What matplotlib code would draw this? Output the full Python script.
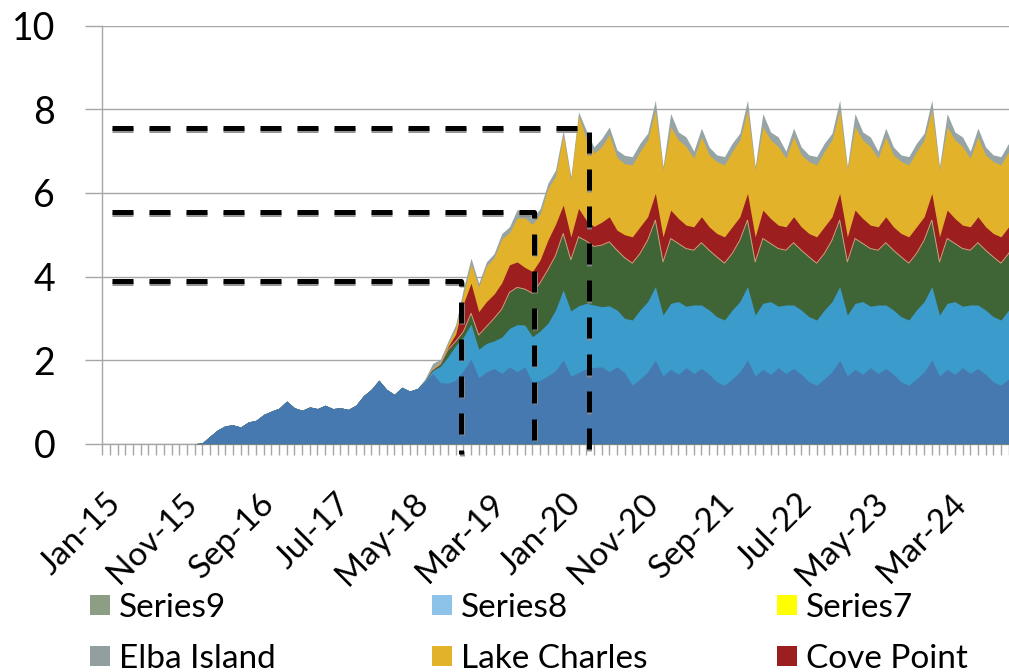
import numpy as np
import matplotlib.pyplot as plt
import matplotlib.patheffects as pe
from matplotlib.patches import Rectangle
from matplotlib.ticker import MultipleLocator
from matplotlib.transforms import ScaledTranslation

plt.rcParams["font.family"] = ["Lato", "DejaVu Sans"]

# Monthly categories Jan-15 .. Dec-24, one label every ten months
tick_months = [0, 10, 20, 30, 40, 50, 60, 70, 80, 90, 100, 110]
tick_labels = ["Jan-15", "Nov-15", "Sep-16", "Jul-17", "May-18", "Mar-19",
               "Jan-20", "Nov-20", "Sep-21", "Jul-22", "May-23", "Mar-24"]

# Stacked layers, bottom to top (one value per month)
series1 = (
    [0.0] * 13
    + [0.02, 0.18, 0.33, 0.43, 0.45, 0.40, 0.52, 0.56, 0.70, 0.78, 0.85,
       1.02, 0.86, 0.80, 0.88, 0.84, 0.92, 0.84, 0.86, 0.82, 0.92, 1.15,
       1.30, 1.52, 1.30, 1.18, 1.35, 1.26, 1.32]
    + [1.48, 1.68, 1.46, 1.45, 1.52, 1.75, 2.02, 1.58, 1.72, 1.80, 1.68,
       1.84, 1.72, 1.84, 1.46, 1.52, 1.62, 1.75, 2.00, 1.62, 1.70, 1.80,
       1.82, 1.84, 1.72, 1.84, 1.70, 1.40, 1.55, 1.72]
    + [2.00, 1.62, 1.78, 1.66, 1.82, 1.68, 1.80, 1.66, 1.48, 1.40, 1.55, 1.72]
    + [2.00, 1.62, 1.78, 1.66, 1.82, 1.68, 1.80, 1.66, 1.48, 1.40, 1.55, 1.72]
    + [2.00, 1.62, 1.78, 1.66, 1.82, 1.68, 1.80, 1.66, 1.48, 1.40, 1.55, 1.72]
    + [2.00, 1.62, 1.78, 1.66, 1.82, 1.68, 1.80, 1.66, 1.48, 1.40, 1.55, 1.72]
)
series2 = (
    [0.0] * 42
    + [0.02, 0.07, 0.39, 0.63, 0.83, 0.80, 0.84, 0.68, 0.68, 0.66, 0.87,
       0.92, 1.13, 1.00, 1.10, 1.18, 1.26, 1.45, 1.68, 1.56, 1.60, 1.56,
       1.50, 1.44, 1.58, 1.36, 1.30, 1.56, 1.65, 1.68]
    + [1.76, 1.46, 1.58, 1.74, 1.47, 1.64, 1.52, 1.54, 1.56, 1.56, 1.65, 1.68]
    + [1.76, 1.46, 1.58, 1.74, 1.47, 1.64, 1.52, 1.54, 1.56, 1.56, 1.65, 1.68]
    + [1.76, 1.46, 1.58, 1.74, 1.47, 1.64, 1.52, 1.54, 1.56, 1.56, 1.65, 1.68]
    + [1.76, 1.46, 1.58, 1.74, 1.47, 1.64, 1.52, 1.54, 1.56, 1.56, 1.65, 1.68]
)
series3 = (
    [0.0] * 43
    + [0.02, 0.05, 0.17, 0.10, 0.13, 0.26, 0.34, 0.40, 0.54, 0.67, 0.86,
       0.89, 0.86, 1.04, 1.15, 1.28, 1.30, 1.35, 1.22, 1.65, 1.49, 1.40,
       1.47, 1.53, 1.43, 1.45, 1.36, 1.35, 1.47]
    + [1.59, 1.27, 1.55, 1.39, 1.38, 1.31, 1.49, 1.43, 1.43, 1.36, 1.35, 1.47]
    + [1.59, 1.27, 1.55, 1.39, 1.38, 1.31, 1.49, 1.43, 1.43, 1.36, 1.35, 1.47]
    + [1.59, 1.27, 1.55, 1.39, 1.38, 1.31, 1.49, 1.43, 1.43, 1.36, 1.35, 1.47]
    + [1.59, 1.27, 1.55, 1.39, 1.38, 1.31, 1.49, 1.43, 1.43, 1.36, 1.35, 1.47]
)
cove_point = (
    [0.0] * 43
    + [0.02, 0.03, 0.07, 0.17, 0.67, 0.72, 0.56, 0.60, 0.58, 0.63, 0.66,
       0.61, 0.52, 0.52, 0.55, 0.71, 0.75, 0.68, 0.55, 0.68, 0.50, 0.48,
       0.55, 0.60, 0.48, 0.55, 0.63, 0.64, 0.56]
    + [0.64, 0.60, 0.68, 0.60, 0.56, 0.56, 0.62, 0.56, 0.56, 0.63, 0.64, 0.56]
    + [0.64, 0.60, 0.68, 0.60, 0.56, 0.56, 0.62, 0.56, 0.56, 0.63, 0.64, 0.56]
    + [0.64, 0.60, 0.68, 0.60, 0.56, 0.56, 0.62, 0.56, 0.56, 0.63, 0.64, 0.56]
    + [0.64, 0.60, 0.68, 0.60, 0.56, 0.56, 0.62, 0.56, 0.56, 0.63, 0.64, 0.56]
)
lake_charles = (
    [0.0] * 43
    + [0.02, 0.02, 0.06, 0.13, 0.23, 0.46, 0.59, 0.85, 0.87, 1.05, 0.77,
       1.05, 1.18, 1.13, 1.10, 1.23, 1.15, 1.69, 1.35, 2.22, 1.95, 1.75,
       1.80, 1.97, 1.74, 1.70, 1.72, 1.80, 1.84]
    + [1.99, 1.60, 1.99, 1.88, 1.88, 1.64, 1.91, 1.72, 1.72, 1.72, 1.80, 1.84]
    + [1.99, 1.60, 1.99, 1.88, 1.88, 1.64, 1.91, 1.72, 1.72, 1.72, 1.80, 1.84]
    + [1.99, 1.60, 1.99, 1.88, 1.88, 1.64, 1.91, 1.72, 1.72, 1.72, 1.80, 1.84]
    + [1.99, 1.60, 1.99, 1.88, 1.88, 1.64, 1.91, 1.72, 1.72, 1.72, 1.80, 1.84]
)
elba_island = (
    [0.0] * 42
    + [0.05, 0.11, 0.07, 0.07, 0.10, 0.12, 0.14, 0.09, 0.10, 0.10, 0.13,
       0.14, 0.20, 0.15, 0.14, 0.13, 0.13, 0.15, 0.10, 0.09, 0.09, 0.20,
       0.15, 0.20, 0.18, 0.18, 0.20, 0.20, 0.20, 0.16]
    + [0.24, 0.08, 0.32, 0.19, 0.23, 0.17, 0.21, 0.19, 0.16, 0.20, 0.20, 0.16]
    + [0.24, 0.08, 0.32, 0.19, 0.23, 0.17, 0.21, 0.19, 0.16, 0.20, 0.20, 0.16]
    + [0.24, 0.08, 0.32, 0.19, 0.23, 0.17, 0.21, 0.19, 0.16, 0.20, 0.20, 0.16]
    + [0.24, 0.08, 0.32, 0.19, 0.23, 0.17, 0.21, 0.19, 0.16, 0.20, 0.20, 0.16]
)
layers = [series1, series2, series3, cove_point, lake_charles, elba_island]
layer_colors = ["#4679B0", "#3B9BCA", "#3F6435", "#9C1E1E", "#E3B22B", "#96A4A5"]

legend_labels = ["Series9", "Series8", "Series7",
                 "Elba Island", "Lake Charles", "Cove Point"]
legend_colors = ["#8C9E84", "#8DC3E9", "#FFFF00", "#939E9E", "#E3B22B", "#9C1E1E"]

# Dashed guides: capacity level and the month it is reached
guide_levels = [3.9, 5.55, 7.55]
guide_months = [46.7, 56.2, 63.3]
guide_start = 1.2

W, H = 1009, 672
fig = plt.figure(figsize=(W / 100, H / 100), dpi=100)
ax = fig.add_axes([102.4 / W, 228.3 / H, (W - 102.4) / W, 417.9 / H])

months = np.arange(len(series1))
# each band is filled from zero up to its running total, top band first,
# so neighbouring bands share one edge and leave no seam
tops = np.cumsum(np.array(layers), axis=0)
for top, color in reversed(list(zip(tops, layer_colors))):
    ax.fill_between(months, 0, top, color=color, linewidth=0)

# thin light seam on top of the third layer
ax.plot(months[43:], tops[2][43:], color="#C9A57F", linewidth=0.7)

for level, month in zip(guide_levels, guide_months):
    ax.plot([guide_start, month, month], [level, level, -0.25],
            color="black", linewidth=3.6, dashes=(4.2, 3.2),
            dash_capstyle="butt", clip_on=False, zorder=5,
            path_effects=[pe.SimpleLineShadow(offset=(0.4, -1.3),
                                              shadow_color="#8A8A8A", alpha=0.9),
                          pe.Normal()])

ax.set_xlim(0, 118.05)
ax.set_ylim(0, 10)
ax.yaxis.set_major_locator(MultipleLocator(2))
ax.set_xticks(tick_months, tick_labels, rotation=45, ha="right",
              rotation_mode="anchor")
ax.xaxis.set_minor_locator(MultipleLocator(1))

grey = "#A6A6A6"
ax.grid(axis="y", color=grey, linewidth=1.0)
ax.set_axisbelow(True)
for side in ("top", "right"):
    ax.spines[side].set_visible(False)
for side in ("left", "bottom"):
    ax.spines[side].set_color(grey)
    ax.spines[side].set_linewidth(1.0)
    ax.spines[side].set_zorder(0.5)

ax.tick_params(axis="y", length=12, width=1.0, color=grey, pad=22,
               labelsize=27)
ax.tick_params(axis="x", which="both", length=8, width=1.0, color=grey,
               pad=24, labelsize=24)
shift = ScaledTranslation(3 / 100, 0, fig.dpi_scale_trans)
for label in ax.get_xticklabels():
    label.set_transform(label.get_transform() + shift)

# legend laid out in three columns under the axis labels
col_x = [90, 432, 777]
row_y = [605, 656]
box = 20
for i, (text, color) in enumerate(zip(legend_labels, legend_colors)):
    x = col_x[i % 3]
    y = row_y[i // 3]
    fig.patches.append(Rectangle((x / W, 1 - (y + box / 2) / H), box / W,
                                 box / H, transform=fig.transFigure,
                                 facecolor=color, edgecolor="none"))
    fig.text((x + box + 9) / W, 1 - y / H, text, fontsize=24,
             ha="left", va="center_baseline")

fig.savefig("out.png", dpi=100)
